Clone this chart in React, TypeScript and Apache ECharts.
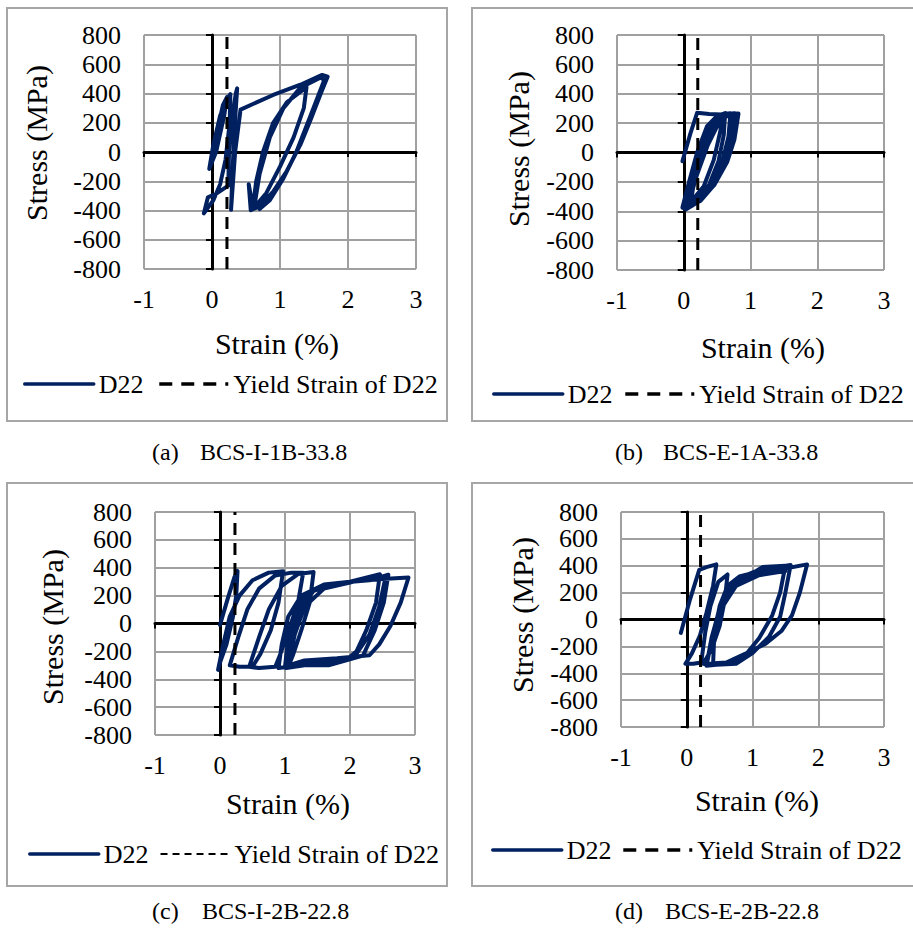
import React, { useEffect, useRef } from 'react';
import * as echarts from 'echarts';

// ---------------- data ----------------
const captionTags = ['(a)', '(b)', '(c)', '(d)'];
const specimenNames = ['BCS-I-1B-33.8', 'BCS-E-1A-33.8', 'BCS-I-2B-22.8', 'BCS-E-2B-22.8'];
const strainTicks = [-1, 0, 1, 2, 3];
const stressTicks = [-800, -600, -400, -200, 0, 200, 400, 600, 800];
const xTitle = 'Strain (%)';
const yTitle = 'Stress (MPa)';
const yieldStrain = [0.22, 0.21, 0.23, 0.21];
const seriesName = 'D22';
const yieldName = 'Yield Strain of D22';

// strain (%), stress (MPa)
const curveA: number[][] = [
  [0.0, -40], [0.08, 150], [0.16, 320], [0.22, 375], [0.18, 250], [0.06, 0], [-0.04, -115],
  [0.02, 50], [0.12, 250], [0.22, 360], [0.27, 395], [0.26, 200], [0.2, -50], [0.12, -220],
  [0.02, -330], [-0.12, -420], [-0.06, -310], [0.08, -280], [0.24, -230], [0.25, 0], [0.3, 250],
  [0.35, 400], [0.37, 435], [0.33, 150], [0.3, -150], [0.28, -395], [0.34, 0], [0.42, 290],
  [0.9, 390], [1.3, 460], [1.62, 527], [1.7, 515], [1.6, 400], [1.45, 220], [1.3, 50],
  [1.1, -130], [0.9, -270], [0.7, -370], [0.57, -398], [0.54, -220], [0.6, -380], [0.65, -200],
  [0.75, 0], [0.9, 200], [1.1, 340], [1.39, 443], [1.35, 300], [1.2, 100], [1.0, -100],
  [0.8, -280], [0.62, -380], [0.7, -150], [0.85, 100], [1.05, 300], [1.3, 440], [1.6, 510],
  [1.65, 490], [1.45, 250], [1.24, 0], [1.05, -180], [0.85, -330], [0.7, -390],
];

const curveB: number[][] = [
  [-0.02, -60], [0.1, 130], [0.2, 270], [0.38, 262], [0.57, 258], [0.55, 150], [0.45, -50],
  [0.3, -230], [0.1, -340], [-0.02, -375], [0.08, -200], [0.2, 0], [0.35, 180], [0.5, 250],
  [0.62, 268], [0.6, 120], [0.52, -60], [0.38, -220], [0.18, -330], [0.0, -380], [0.1, -190],
  [0.24, 20], [0.4, 200], [0.58, 262], [0.7, 268], [0.67, 110], [0.58, -60], [0.42, -220],
  [0.2, -335], [0.02, -385], [0.13, -180], [0.28, 30], [0.45, 205], [0.62, 262], [0.76, 268],
  [0.72, 100], [0.62, -70], [0.45, -225], [0.22, -335], [0.03, -388], [0.16, -170], [0.32, 40],
  [0.5, 210], [0.68, 262], [0.82, 265], [0.76, 90], [0.65, -65], [0.46, -220], [0.22, -335],
  [0.05, -380], [0.2, -150], [0.36, 50], [0.54, 215], [0.7, 262], [0.8, 262], [0.74, 80],
  [0.62, -80], [0.44, -230], [0.25, -330], [0.1, -360], [0.18, -120], [0.3, 100], [0.46, 230],
  [0.66, 265], [0.78, 265], [0.7, 60], [0.56, -110], [0.36, -270], [0.12, -365],
];

const curveC: number[][] = [
  [0.0, -10], [0.12, 180], [0.22, 330], [0.27, 377], [0.25, 200], [0.2, 50], [0.1, -150],
  [0.0, -280], [-0.03, -333], [0.05, -150], [0.15, 50], [0.3, 200], [0.5, 310], [0.75, 365],
  [0.97, 375], [0.9, 150], [0.78, -50], [0.62, -220], [0.5, -310], [0.3, -310], [0.15, -300],
  [0.28, -100], [0.42, 100], [0.6, 250], [0.85, 345], [1.1, 365], [1.28, 365], [1.2, 150],
  [1.05, -60], [0.92, -230], [0.85, -310], [0.6, -320], [0.45, -310], [0.6, -100], [0.75, 100],
  [0.95, 270], [1.2, 355], [1.44, 370], [1.38, 150], [1.25, -50], [1.12, -230], [1.05, -310],
  [0.9, -320], [0.95, -150], [1.05, 50], [1.25, 200], [1.6, 280], [2.0, 300], [2.46, 353],
  [2.4, 150], [2.25, -50], [2.1, -200], [1.95, -260], [1.6, -270], [1.2, -290], [1.0, -310],
  [1.05, -100], [1.15, 80], [1.35, 220], [1.8, 290], [2.3, 310], [2.59, 350], [2.52, 150],
  [2.38, -50], [2.2, -230], [1.67, -300], [1.3, -300], [1.02, -320], [1.1, -100], [1.22, 100],
  [1.45, 240], [2.0, 300], [2.5, 320], [2.9, 330], [2.78, 150], [2.62, -20], [2.45, -150],
  [2.3, -228], [1.8, -250], [1.3, -265], [1.05, -300], [1.15, -80], [1.3, 120], [1.6, 250],
  [2.1, 305], [2.45, 330], [2.55, 340], [2.45, 120], [2.3, -80], [2.05, -250], [1.6, -280],
  [1.1, -300],
];

const curveD: number[][] = [
  [-0.09, -100], [0.05, 150], [0.19, 370], [0.3, 390], [0.45, 410], [0.4, 250], [0.3, 50],
  [0.2, -120], [0.08, -250], [-0.02, -330], [0.1, -330], [0.22, -320], [0.28, -100], [0.36, 100],
  [0.48, 280], [0.62, 335], [0.58, 150], [0.5, -50], [0.38, -220], [0.25, -330], [0.4, -340],
  [0.42, -100], [0.5, 100], [0.62, 250], [0.8, 320], [1.0, 345], [1.15, 390], [1.5, 400],
  [1.42, 200], [1.3, 30], [1.1, -140], [0.85, -290], [0.6, -330], [0.3, -345], [0.38, -150],
  [0.48, 50], [0.6, 200], [0.8, 310], [1.1, 370], [1.58, 405], [1.5, 200], [1.42, 20],
  [1.25, -130], [1.0, -250], [0.75, -330], [0.3, -340], [0.38, -130], [0.5, 80], [0.7, 250],
  [1.0, 330], [1.4, 370], [1.83, 410], [1.72, 200], [1.6, 30], [1.44, -86], [1.2, -180],
  [0.91, -250], [0.6, -320], [0.3, -330], [0.4, -100], [0.55, 100], [0.75, 250], [1.1, 330],
  [1.5, 360],
];

const curves = [curveA, curveB, curveC, curveD];

// ---------------- layout / style ----------------
const FONT = 'Liberation Serif';
const NAVY = '#002060';
const GRID_GRAY = '#a0a0a0';
const BOX_GRAY = '#a6a6a6';

const layouts = [
  { left: 144, top: 35, width: 272, height: 234, xTitle: [277, 343], yTitle: [36, 143], legLeft: 23, legTop: 371, legGap: 14, box: [7, 8, 440, 413], capX: [152, 200], capY: 452 },
  { left: 617, top: 35, width: 267, height: 235, xTitle: [763, 347], yTitle: [518, 149], legLeft: 492, legTop: 381, legGap: 11, box: [472, 8, 445, 413], capX: [615, 663], capY: 452 },
  { left: 155, top: 512, width: 260, height: 223, xTitle: [288, 803], yTitle: [52, 627], legLeft: 28, legTop: 841, legGap: 11, box: [7, 483, 440, 403], capX: [152, 202], capY: 911 },
  { left: 621, top: 512, width: 263, height: 215, xTitle: [757, 800], yTitle: [522, 615], legLeft: 491, legTop: 837, legGap: 10, box: [472, 483, 445, 403], capX: [615, 665], capY: 911 },
];
const legendDash = [[13, 9], [13, 9], [7, 5], [13, 9]];
const legendDashWidth = [3.5, 3.5, 2, 3.5];

function buildOption() {
  const grid: any[] = [];
  const xAxis: any[] = [];
  const yAxis: any[] = [];
  const series: any[] = [];
  const legend: any[] = [];

  layouts.forEach((l, i) => {
    grid.push({ left: l.left, top: l.top, width: l.width, height: l.height });
    xAxis.push({
      gridIndex: i, type: 'value', min: -1, max: 3, interval: 1, position: 'bottom',
      axisLine: { show: false, onZero: false }, axisTick: { show: false }, axisLabel: { show: false },
      splitLine: { show: true, lineStyle: { color: GRID_GRAY, width: 2 } },
    });
    xAxis.push({
      gridIndex: i, type: 'value', min: -1, max: 3, interval: 1, position: 'bottom', z: 1,
      axisLine: { show: true, onZero: true, lineStyle: { color: '#000', width: 3 } },
      axisTick: { show: true, length: 5, lineStyle: { color: '#000', width: 2 } },
      axisLabel: { show: false }, splitLine: { show: false },
    });
    yAxis.push({
      gridIndex: i, type: 'value', min: -800, max: 800, interval: 200, position: 'left',
      axisLine: { show: false, onZero: false }, axisTick: { show: false }, axisLabel: { show: false },
      splitLine: { show: true, lineStyle: { color: GRID_GRAY, width: 2 } },
    });
    yAxis.push({
      gridIndex: i, type: 'value', min: -800, max: 800, interval: 200, position: 'left', z: 1,
      axisLine: { show: true, onZero: true, lineStyle: { color: '#000', width: 3 } },
      axisTick: { show: true, length: 6, lineStyle: { color: '#000', width: 2 } },
      axisLabel: { show: false }, splitLine: { show: false },
    });
    series.push({
      type: 'line', name: seriesName, xAxisIndex: 2 * i, yAxisIndex: 2 * i,
      data: curves[i], symbol: 'none', showSymbol: false,
      lineStyle: { color: NAVY, width: 4, join: 'round', cap: 'round' }, itemStyle: { color: NAVY },
    });
    series.push({
      type: 'line', name: yieldName, xAxisIndex: 2 * i, yAxisIndex: 2 * i,
      data: [[yieldStrain[i], -800], [yieldStrain[i], 800]], symbol: 'none', showSymbol: false,
      lineStyle: { color: '#000', width: 3, type: [12, 8] }, itemStyle: { color: '#000' },
    });
    legend.push({
      left: l.legLeft, top: l.legTop, orient: 'horizontal', padding: 0,
      itemWidth: 69, itemHeight: 14, itemGap: l.legGap, selectedMode: false,
      textStyle: { fontFamily: FONT, fontSize: 26, color: '#000' },
      itemStyle: { opacity: 0, borderWidth: 0 },
      data: [
        { name: seriesName, itemStyle: { opacity: 0, borderWidth: 0 }, lineStyle: { color: NAVY, width: 3.5 } },
        { name: yieldName, itemStyle: { opacity: 0, borderWidth: 0 }, lineStyle: { color: '#000', width: legendDashWidth[i], type: legendDash[i] } },
      ],
    });
  });

  return { animation: false, grid, xAxis, yAxis, series, legend };
}

function txt(text: string, x: number, y: number, size: number, align: string, vAlign: string, rotation = 0) {
  return {
    type: 'text', silent: true, x, y, rotation,
    style: { text, fontFamily: FONT, fontSize: size, fill: '#000', align, verticalAlign: vAlign },
  };
}

function buildGraphic(chart: echarts.ECharts) {
  const graphic: any[] = [];
  layouts.forEach((l, i) => {
    const finder = { xAxisIndex: 2 * i, yAxisIndex: 2 * i };
    graphic.push({
      type: 'rect', silent: true, z: -1,
      shape: { x: l.box[0], y: l.box[1], width: l.box[2], height: l.box[3] },
      style: { fill: 'none', stroke: BOX_GRAY, lineWidth: 2 },
    });
    strainTicks.forEach((v) => {
      const p = chart.convertToPixel(finder as any, [v, stressTicks[0]]) as number[];
      graphic.push(txt(String(v), p[0], p[1] + 17, 26, 'center', 'top'));
    });
    stressTicks.forEach((v) => {
      const p = chart.convertToPixel(finder as any, [strainTicks[0], v]) as number[];
      graphic.push(txt(String(v), p[0] - 23, p[1], 26, 'right', 'middle'));
    });
    graphic.push(txt(xTitle, l.xTitle[0], l.xTitle[1], 30, 'center', 'middle'));
    graphic.push(txt(yTitle, l.yTitle[0], l.yTitle[1], 30, 'center', 'middle', Math.PI / 2));
    graphic.push(txt(captionTags[i], l.capX[0], l.capY, 24, 'left', 'middle'));
    graphic.push(txt(specimenNames[i], l.capX[1], l.capY, 24, 'left', 'middle'));
  });
  return graphic;
}

export default function App() {
  const ref = useRef<HTMLDivElement>(null);
  useEffect(() => {
    const el = ref.current;
    if (!el) return;
    const chart = echarts.init(el, undefined, { renderer: 'svg' });
    chart.setOption(buildOption() as any);
    chart.setOption({ graphic: buildGraphic(chart) } as any);
    return () => chart.dispose();
  }, []);
  return (
    <div
      ref={ref}
      style={{ position: 'absolute', left: 0, top: 0, width: 913, height: 934, background: '#fff' }}
    />
  );
}
